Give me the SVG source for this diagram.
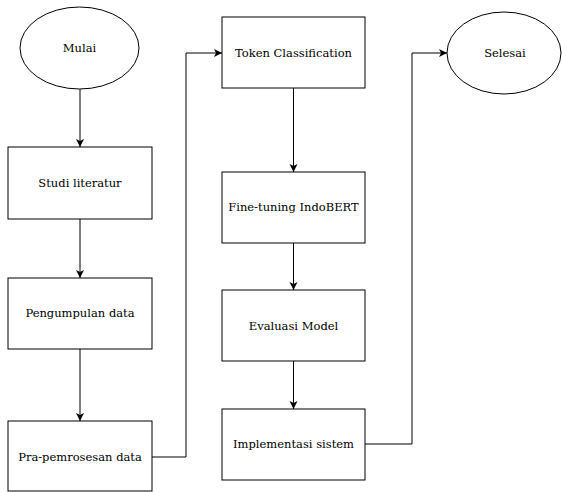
<svg xmlns="http://www.w3.org/2000/svg" width="562" height="492" viewBox="0 0 562 492">
<style>
.n{fill:#fff;stroke:#000;stroke-width:1}
.t{font-family:'DejaVu Serif',serif;font-size:11.5px;fill:#000;text-anchor:middle}
.c{fill:none;stroke:#000;stroke-width:1}
</style>
<defs>
<marker id="a" markerWidth="9" markerHeight="9" refX="8" refY="4.5" orient="auto" markerUnits="userSpaceOnUse">
<path d="M0,0.5 L8,4.5 L0,8.5 L2,4.5 z" fill="#000"/>
</marker>
</defs>
<rect width="562" height="492" fill="#fff"/>
<g id="connectors">
<path class="c" d="M80,89 V147" marker-end="url(#a)"/>
<path class="c" d="M80,219 V278" marker-end="url(#a)"/>
<path class="c" d="M80,349 V421" marker-end="url(#a)"/>
<path class="c" d="M152,457 H186 V53 H222" marker-end="url(#a)"/>
<path class="c" d="M293.5,88 V172" marker-end="url(#a)"/>
<path class="c" d="M293.5,243 V290" marker-end="url(#a)"/>
<path class="c" d="M293.5,361 V409" marker-end="url(#a)"/>
<path class="c" d="M365,444 H412 V53 H447" marker-end="url(#a)"/>
</g>
<g id="mulai"><ellipse class="n" cx="79.5" cy="48" rx="59.5" ry="41"/><text class="t" x="79.5" y="52">Mulai</text></g>
<g id="studi"><rect class="n" x="8" y="147" width="144" height="72"/><text class="t" x="80" y="187">Studi literatur</text></g>
<g id="pengumpulan"><rect class="n" x="8" y="278" width="144" height="71"/><text class="t" x="80" y="317">Pengumpulan data</text></g>
<g id="pra"><rect class="n" x="8" y="421" width="144" height="70"/><text class="t" x="80" y="461">Pra-pemrosesan data</text></g>
<g id="token"><rect class="n" x="222" y="17" width="143" height="71"/><text class="t" x="293.5" y="57">Token Classification</text></g>
<g id="finetuning"><rect class="n" x="222" y="172" width="143" height="71"/><text class="t" x="293.5" y="211">Fine-tuning IndoBERT</text></g>
<g id="evaluasi"><rect class="n" x="222" y="290" width="143" height="71"/><text class="t" x="293.5" y="330">Evaluasi Model</text></g>
<g id="implementasi"><rect class="n" x="222" y="409" width="143" height="71"/><text class="t" x="293.5" y="448">Implementasi sistem</text></g>
<g id="selesai"><ellipse class="n" cx="504" cy="53" rx="57" ry="41"/><text class="t" x="505" y="57">Selesai</text></g>
</svg>
